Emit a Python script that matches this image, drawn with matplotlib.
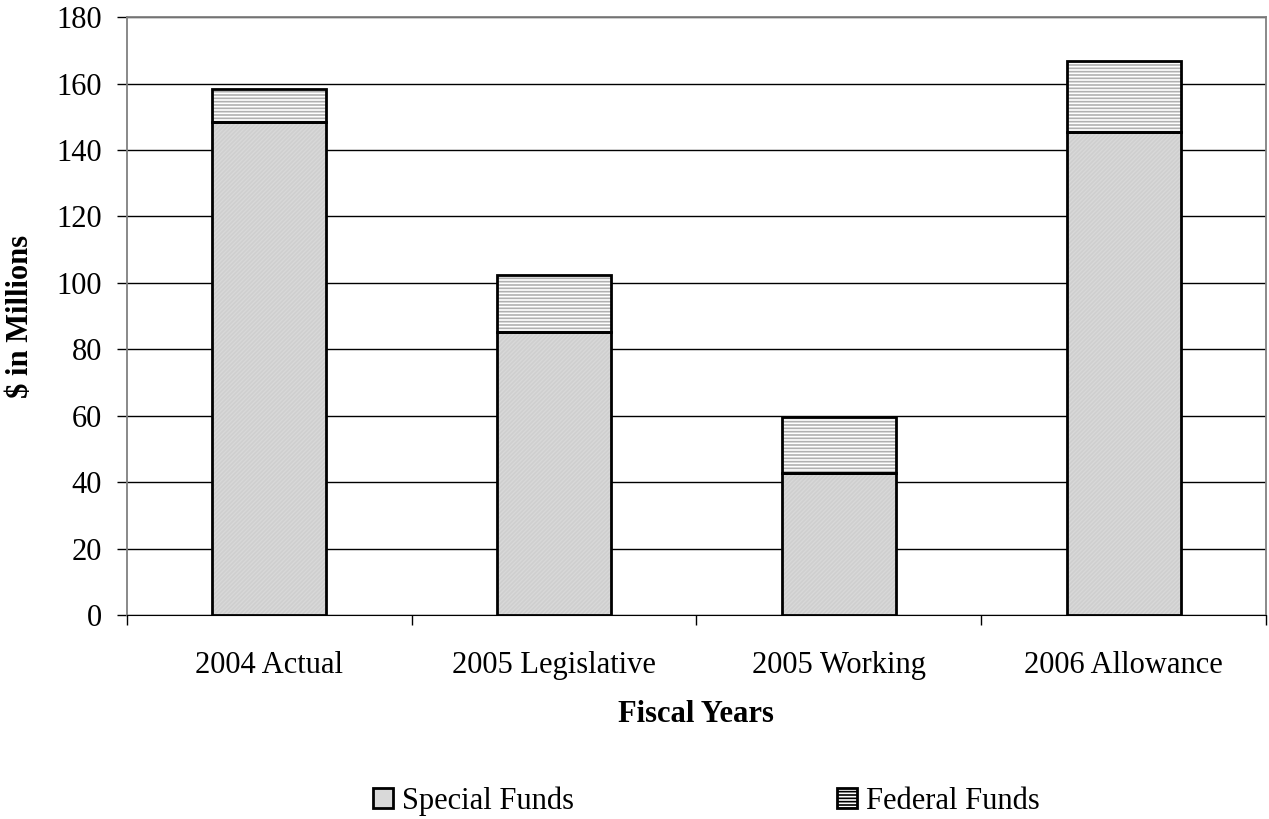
import numpy as np
import matplotlib.pyplot as plt
from matplotlib.patches import Patch

plt.rcParams['font.family'] = ['Liberation Serif', 'DejaVu Serif']
plt.rcParams['hatch.linewidth'] = 1.2

# fiscal year spending by fund source ($ millions)
years = ['2004 Actual', '2005 Legislative', '2005 Working', '2006 Allowance']
special_funds = [148.5, 85.2, 42.8, 145.5]
federal_funds = [9.8, 17.1, 16.8, 21.3]
yticks = np.arange(0, 181, 20)

fig = plt.figure(figsize=(12.69, 8.19), dpi=100)
ax = fig.add_axes([0.1, 0.249, 0.8976, 0.73])

x = np.arange(len(years))
w = 0.4

ax.set_axisbelow(True)
ax.yaxis.grid(True, color='black', linewidth=1)

# special funds: light grey fill
ax.bar(x, special_funds, w, color='#d9d9d9', hatch='////////', edgecolor='#cfcfcf',
       linewidth=0, zorder=2)
ax.bar(x, special_funds, w, fill=False, edgecolor='black', linewidth=2, zorder=3)
# federal funds: grey horizontal stripes on white
ax.bar(x, federal_funds, w, bottom=special_funds, color='white', hatch='-----',
       edgecolor='#b0b0b0', linewidth=0, zorder=2)
ax.bar(x, federal_funds, w, bottom=special_funds, fill=False, edgecolor='black',
       linewidth=2, zorder=3)

ax.set_xlim(-0.5, len(years) - 0.5)
ax.set_ylim(0, 180)
ax.set_yticks(yticks)
ax.set_xticks(x)
ax.set_xticklabels(years)
ax.set_xticks(np.arange(len(years) + 1) - 0.5, minor=True)
ax.tick_params(axis='x', which='major', length=0, pad=26, labelsize=22)
ax.tick_params(axis='x', which='minor', length=7, width=1, direction='out')
ax.tick_params(axis='y', length=7, width=1, direction='out', labelsize=22, pad=11)

for side in ['top', 'right', 'left']:
    ax.spines[side].set_color('#808080')
    ax.spines[side].set_linewidth(1.3)
ax.spines['bottom'].set_color('black')

ax.set_ylabel(r'\$ in Millions', fontsize=22, fontweight='bold', va='center')
ax.yaxis.set_label_coords(-0.093, 0.5)
ax.set_xlabel('Fiscal Years', fontsize=22, fontweight='bold', va='center')
ax.xaxis.set_label_coords(0.5, -0.167)

handles = [
    Patch(facecolor='#d9d9d9', edgecolor='black', linewidth=2, label='Special Funds'),
    Patch(facecolor='white', edgecolor='black', hatch='-----', linewidth=2,
          label='Federal Funds'),
]
fig.legend(handles=handles, loc='center left', bbox_to_anchor=(0.294, 0.022), ncol=2,
           frameon=False, fontsize=22, handlelength=0.65, handleheight=0.65,
           handletextpad=0.3, columnspacing=8.6, borderpad=0, borderaxespad=0)

fig.savefig('out.png', dpi=100)
